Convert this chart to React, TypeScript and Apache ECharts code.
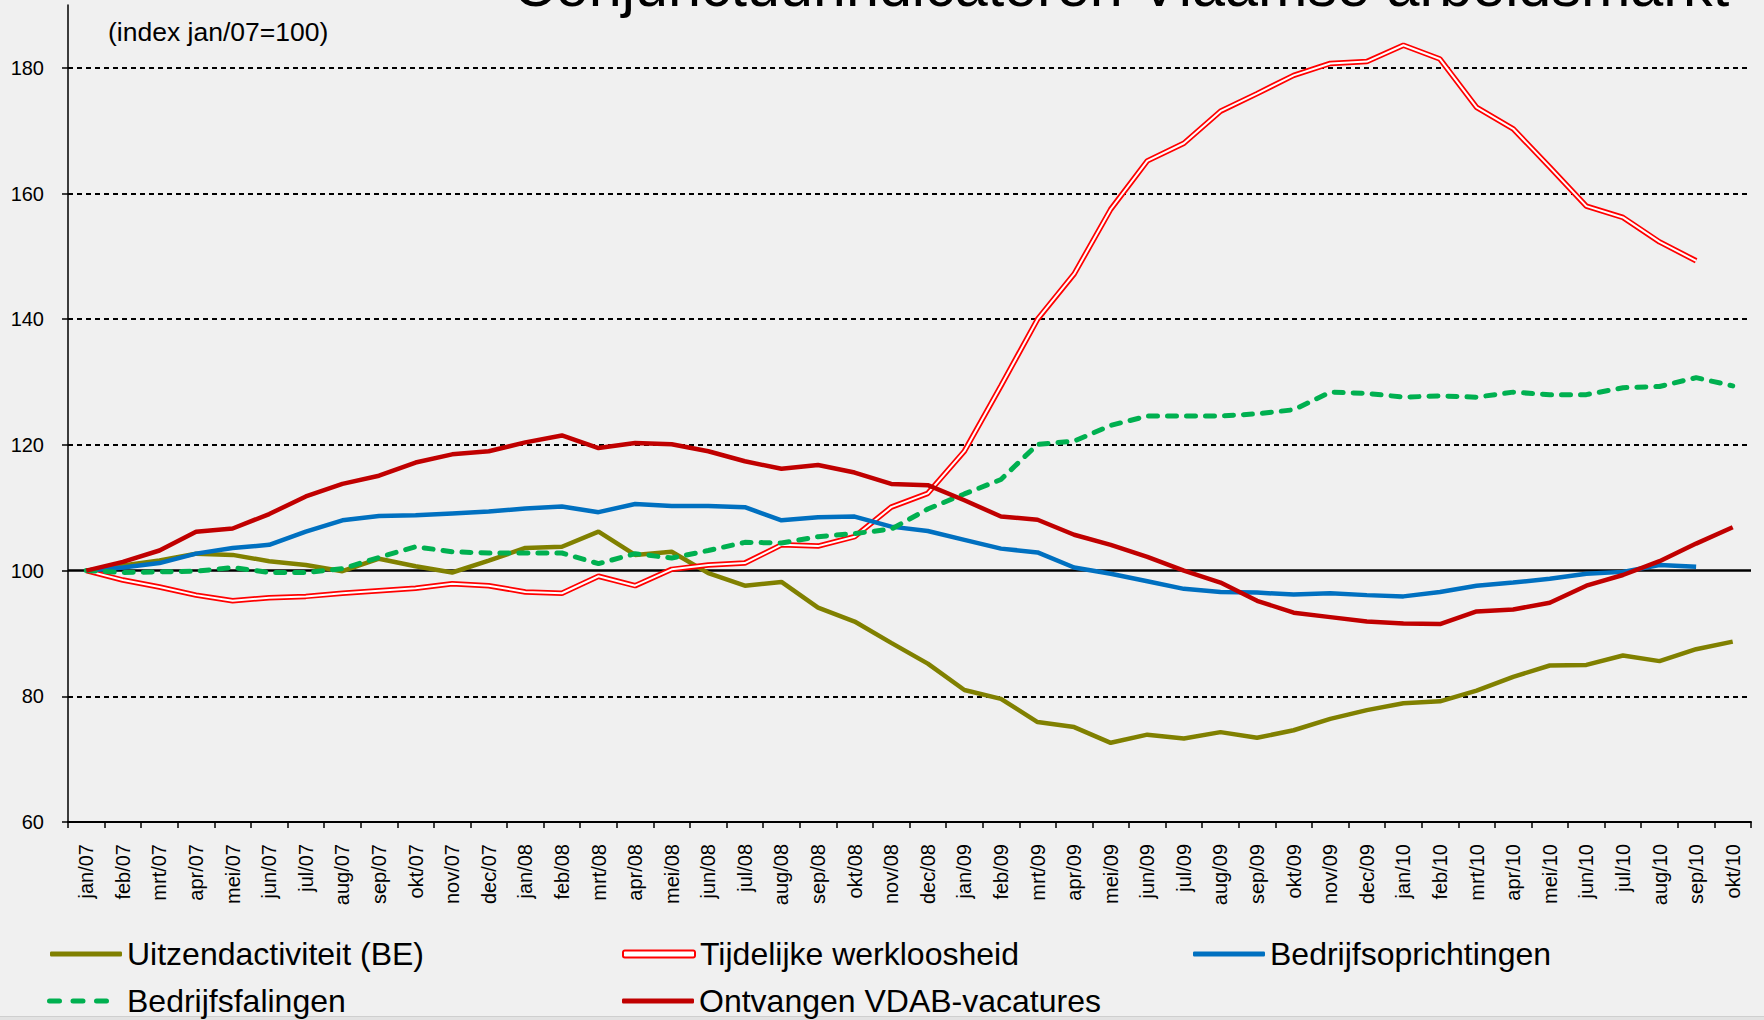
import React, { useEffect, useRef } from "react";
import * as echarts from "echarts";

const FONT = "'Liberation Sans', Arial, Helvetica, sans-serif";

const categories = [
  "jan/07", "feb/07", "mrt/07", "apr/07", "mei/07", "jun/07", "jul/07", "aug/07", "sep/07", "okt/07", "nov/07", "dec/07",
  "jan/08", "feb/08", "mrt/08", "apr/08", "mei/08", "jun/08", "jul/08", "aug/08", "sep/08", "okt/08", "nov/08", "dec/08",
  "jan/09", "feb/09", "mrt/09", "apr/09", "mei/09", "jun/09", "jul/09", "aug/09", "sep/09", "okt/09", "nov/09", "dec/09",
  "jan/10", "feb/10", "mrt/10", "apr/10", "mei/10", "jun/10", "jul/10", "aug/10", "sep/10", "okt/10",
];

const uitzendactiviteit = [
  100, 100.8, 101.6, 102.7, 102.5, 101.5, 100.9, 99.9, 101.9, 100.7, 99.7, 101.6,
  103.6, 103.8, 106.2, 102.5, 103.0, 99.6, 97.6, 98.2, 94.1, 91.9, 88.5, 85.2,
  81.0, 79.6, 75.9, 75.1, 72.6, 73.9, 73.3, 74.3, 73.4, 74.6, 76.4, 77.8,
  78.9, 79.2, 80.9, 83.1, 84.9, 85.0, 86.5, 85.6, 87.5, 88.7,
];

const tijdelijkeWerkloosheid = [
  100, 98.5, 97.4, 96.1, 95.2, 95.7, 95.9, 96.4, 96.8, 97.2, 97.9, 97.6,
  96.6, 96.4, 99.1, 97.6, 100.2, 100.9, 101.2, 104.1, 103.9, 105.4, 110.1, 112.3,
  119.0, 129.4, 140.0, 147.2, 157.5, 165.2, 168.0, 173.1, 175.9, 178.8, 180.7, 181.0,
  183.6, 181.4, 173.7, 170.3, 164.2, 158.0, 156.2, 152.3, 149.3, null,
];

const bedrijfsoprichtingen = [
  100, 100.5, 101.2, 102.7, 103.6, 104.1, 106.2, 108.0, 108.7, 108.8, 109.1, 109.4,
  109.9, 110.2, 109.3, 110.6, 110.3, 110.3, 110.1, 108.0, 108.5, 108.6, 107.0, 106.3,
  104.9, 103.5, 102.9, 100.5, 99.5, 98.3, 97.1, 96.6, 96.5, 96.2, 96.4, 96.1,
  95.9, 96.6, 97.6, 98.1, 98.7, 99.5, 99.8, 100.9, 100.6, null,
];

const bedrijfsfalingen = [
  100, 99.7, 99.8, 99.9, 100.5, 99.7, 99.7, 100.3, 102.1, 103.8, 103.0, 102.8,
  102.8, 102.8, 101.1, 102.7, 102.0, 103.2, 104.5, 104.4, 105.4, 105.9, 106.6, 109.8,
  112.2, 114.5, 120.1, 120.6, 123.1, 124.6, 124.6, 124.6, 124.95, 125.6, 128.4, 128.2,
  127.6, 127.8, 127.6, 128.4, 128.0, 128.0, 129.1, 129.3, 130.7, 129.4,
];

const vdabVacatures = [
  100, 101.4, 103.2, 106.2, 106.7, 109.0, 111.8, 113.8, 115.1, 117.2, 118.5, 119.0,
  120.4, 121.5, 119.5, 120.3, 120.1, 119.0, 117.4, 116.2, 116.8, 115.6, 113.8, 113.6,
  111.2, 108.6, 108.1, 105.7, 104.1, 102.2, 100.0, 98.1, 95.2, 93.3, 92.6, 91.9,
  91.6, 91.5, 93.5, 93.8, 94.9, 97.6, 99.3, 101.5, 104.3, 106.9,
];

const yTickValues = [60, 80, 100, 120, 140, 160, 180];
const dashedGridValues = [80, 120, 140, 160, 180];
const baseValue = 100;

const TITLE = "Conjunctuurindicatoren Vlaamse arbeidsmarkt";
const SUBTITLE = "(index jan/07=100)";

const N_UITZEND = "Uitzendactiviteit (BE)";
const N_TIJDELIJK = "Tijdelijke werkloosheid";
const N_OPRICHT = "Bedrijfsoprichtingen";
const N_FALING = "Bedrijfsfalingen";
const N_VDAB = "Ontvangen VDAB-vacatures";

function buildOption(): any {
  const legendText = { fontSize: 32, color: "#000", fontFamily: FONT };
  const legendBase = {
    orient: "horizontal",
    itemWidth: 72,
    itemHeight: 5,
    itemGap: 0,
    padding: 0,
    selectedMode: false,
    textStyle: legendText,
  };
  const dashPath =
    "path://M2.5,0h10a2.5,2.5 0 0 1 0,5h-10a2.5,2.5 0 0 1 0,-5z" +
    "M26,0h10a2.5,2.5 0 0 1 0,5h-10a2.5,2.5 0 0 1 0,-5z" +
    "M49.5,0h10a2.5,2.5 0 0 1 0,5h-10a2.5,2.5 0 0 1 0,-5z";

  const gridLines: any[] = dashedGridValues.map((v) => ({
    yAxis: v,
    lineStyle: { type: [5, 4], color: "#000", width: 1.8 },
  }));
  gridLines.push({ yAxis: baseValue, lineStyle: { type: "solid", color: "#000", width: 2.5 } });

  return {
    animation: false,
    backgroundColor: "#f0f0f0",
    textStyle: { fontFamily: FONT },
    grid: { left: 68, right: 13, top: 5, bottom: 198, containLabel: false },
    graphic: [
      {
        type: "text",
        x: 513,
        y: -15,
        silent: true,
        style: {
          text: TITLE,
          fontSize: 59.3,
          fontFamily: FONT,
          fill: "#000",
          textAlign: "left",
          textVerticalAlign: "middle",
        },
      },
      {
        type: "text",
        x: 108,
        y: 32,
        silent: true,
        style: {
          text: SUBTITLE,
          fontSize: 26.5,
          fontFamily: FONT,
          fill: "#000",
          textAlign: "left",
          textVerticalAlign: "middle",
        },
      },
      {
        type: "rect",
        silent: true,
        shape: { x: 0, y: 1016, width: 1764, height: 4 },
        style: { fill: "#e2e2e2" },
      },
      {
        type: "line",
        silent: true,
        shape: { x1: 0, y1: 1016.5, x2: 1764, y2: 1016.5 },
        style: { stroke: "#cfcfcf", lineWidth: 1 },
      },
    ],
    xAxis: {
      type: "category",
      data: categories,
      boundaryGap: true,
      axisLine: { show: true, lineStyle: { color: "#000", width: 2 } },
      axisTick: { show: true, interval: 0, length: 6, lineStyle: { color: "#000", width: 1.5 } },
      axisLabel: {
        interval: 0,
        rotate: 90,
        margin: 22,
        fontSize: 20,
        color: "#000",
        fontFamily: FONT,
      },
      splitLine: { show: false },
    },
    yAxis: {
      type: "value",
      min: 60,
      max: 190,
      interval: 20,
      axisLine: { show: true, lineStyle: { color: "#000", width: 1.5 } },
      axisTick: { show: true, length: 6, customValues: yTickValues, lineStyle: { color: "#000", width: 1.5 } },
      axisLabel: {
        customValues: yTickValues,
        margin: 24,
        fontSize: 20,
        color: "#000",
        fontFamily: FONT,
      },
      splitLine: { show: false },
    },
    legend: [
      { ...legendBase, left: 50, top: 938, data: [{ name: N_UITZEND, icon: "roundRect" }] },
      {
        ...legendBase,
        left: 622,
        top: 938,
        itemHeight: 7,
        data: [
          {
            name: N_TIJDELIJK,
            icon: "roundRect",
            itemStyle: { color: "#ffffff", borderColor: "#ff0000", borderWidth: 2 },
          },
        ],
      },
      { ...legendBase, left: 1193, top: 938, data: [{ name: N_OPRICHT, icon: "roundRect" }] },
      {
        ...legendBase,
        left: 47,
        top: 985,
        textStyle: { ...legendText, padding: [0, 0, 0, 8] },
        data: [{ name: N_FALING, icon: dashPath }],
      },
      { ...legendBase, left: 622, top: 985, data: [{ name: N_VDAB, icon: "roundRect" }] },
    ],
    series: [
      {
        name: N_UITZEND,
        type: "line",
        data: uitzendactiviteit,
        symbol: "none",
        color: "#808000",
        lineStyle: { color: "#808000", width: 4.5 },
        markLine: {
          silent: true,
          z: 1,
          symbol: "none",
          label: { show: false },
          animation: false,
          data: gridLines,
        },
      },
      {
        name: N_TIJDELIJK,
        type: "line",
        data: tijdelijkeWerkloosheid,
        symbol: "none",
        color: "#ff0000",
        lineStyle: { color: "#ff0000", width: 5.5 },
      },
      {
        name: "tw-inner",
        type: "line",
        data: tijdelijkeWerkloosheid,
        symbol: "none",
        color: "#ffffff",
        silent: true,
        lineStyle: { color: "#ffffff", width: 2 },
      },
      {
        name: N_OPRICHT,
        type: "line",
        data: bedrijfsoprichtingen,
        symbol: "none",
        color: "#0070c0",
        lineStyle: { color: "#0070c0", width: 4.5 },
      },
      {
        name: N_FALING,
        type: "line",
        data: bedrijfsfalingen,
        symbol: "none",
        color: "#00b050",
        lineStyle: { color: "#00b050", width: 5, type: [9, 10], cap: "round" },
      },
      {
        name: N_VDAB,
        type: "line",
        data: vdabVacatures,
        symbol: "none",
        color: "#c00000",
        lineStyle: { color: "#c00000", width: 4.5 },
      },
    ],
  };
}

export default function App() {
  const ref = useRef<HTMLDivElement>(null);
  useEffect(() => {
    document.body.style.margin = "0";
    document.body.style.background = "#f0f0f0";
    const chart = echarts.init(ref.current as HTMLDivElement, null, { renderer: "svg" });
    chart.setOption(buildOption());
    return () => {
      chart.dispose();
    };
  }, []);
  return (
    <div
      ref={ref}
      style={{ position: "fixed", left: 0, top: 0, width: 1764, height: 1020, background: "#f0f0f0" }}
    />
  );
}
